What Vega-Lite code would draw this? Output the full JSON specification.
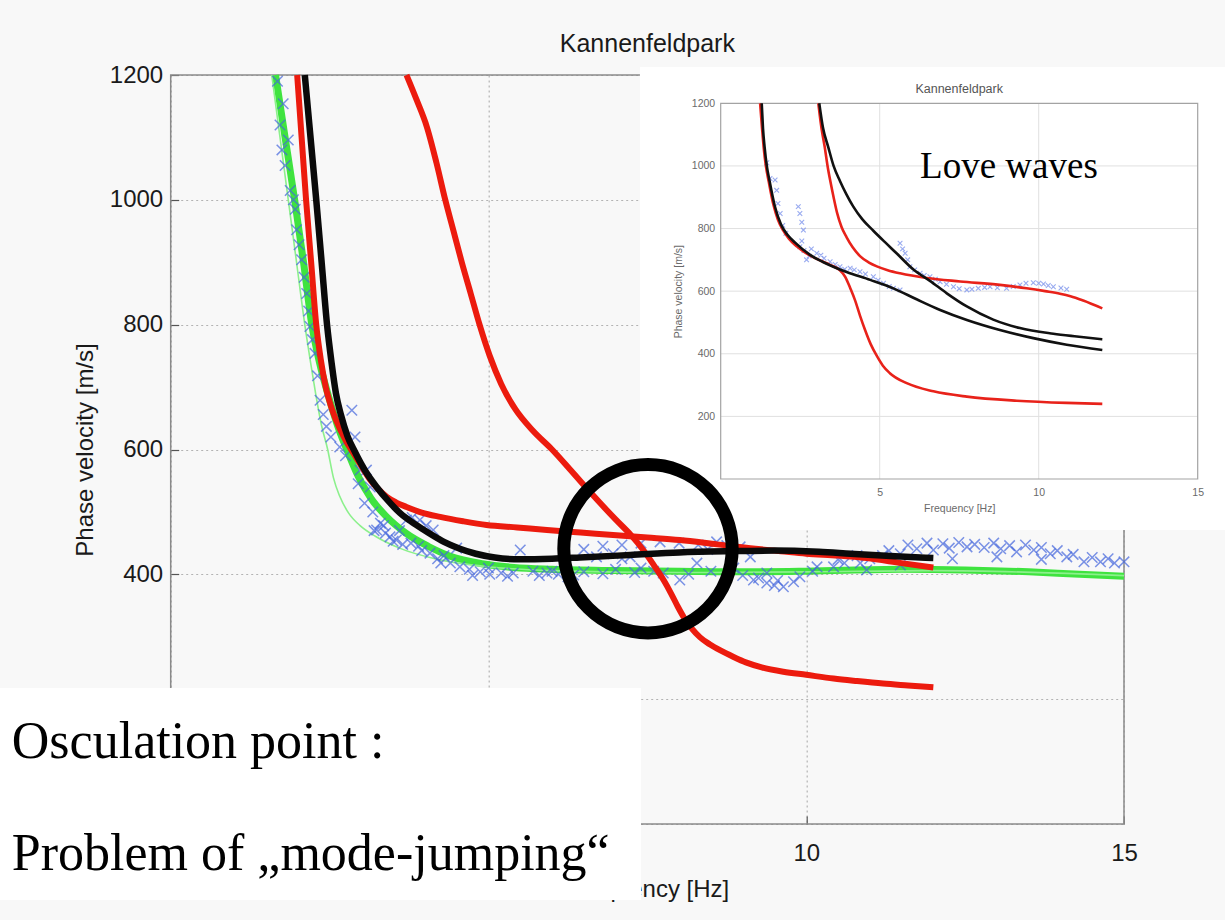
{
  "$schema": "https://vega.github.io/schema/vega-lite/v6.json",
  "width": 953.3,
  "height": 749,
  "autosize": {"type": "none"},
  "padding": {"left": 170.7, "top": 75, "right": 101, "bottom": 96},
  "background": "#f8f8f8",
  "config": {"view": {"stroke": null}, "font": "Liberation Sans"},
  "title": {"text": "Kannenfeldpark", "fontSize": 25, "font": "Liberation Sans", "fontWeight": "normal", "color": "#1a1a1a", "anchor": "middle", "offset": 4},
  "datasets": {
    "main_black": [
      {"f":2.11,"v":1200},{"f":2.20,"v":1100},{"f":2.29,"v":1000},{"f":2.375,"v":900},{"f":2.46,"v":800},{"f":2.53,"v":740},{"f":2.60,"v":690},{"f":2.68,"v":655},{"f":2.78,"v":622},{"f":2.90,"v":596},{"f":3.06,"v":566},{"f":3.24,"v":540},{"f":3.42,"v":518},{"f":3.61,"v":498},{"f":3.85,"v":480},{"f":4.08,"v":465},{"f":4.30,"v":452},{"f":4.55,"v":441},{"f":4.80,"v":433},{"f":5.10,"v":427},{"f":5.50,"v":424},{"f":6.00,"v":425},{"f":6.44,"v":427},{"f":7.23,"v":431},{"f":8.00,"v":435},{"f":8.80,"v":437},{"f":9.50,"v":438},{"f":10.20,"v":436},{"f":10.70,"v":433},{"f":11.40,"v":429},{"f":12.00,"v":426}
    ],
    "main_red1": [
      {"f":1.99,"v":1200},{"f":2.06,"v":1100},{"f":2.13,"v":1000},{"f":2.21,"v":900},{"f":2.29,"v":800},{"f":2.36,"v":745},{"f":2.44,"v":700},{"f":2.52,"v":670},{"f":2.61,"v":645},{"f":2.75,"v":615},{"f":2.90,"v":590},{"f":3.02,"v":570},{"f":3.14,"v":551},{"f":3.27,"v":536},{"f":3.40,"v":524},{"f":3.55,"v":515},{"f":3.71,"v":508},{"f":3.95,"v":499},{"f":4.24,"v":492},{"f":4.60,"v":485},{"f":4.97,"v":479},{"f":5.45,"v":475},{"f":5.92,"v":471},{"f":6.45,"v":467},{"f":6.96,"v":463},{"f":7.50,"v":459},{"f":8.01,"v":455},{"f":8.60,"v":448},{"f":9.20,"v":441},{"f":9.60,"v":437},{"f":10.00,"v":433},{"f":10.50,"v":430},{"f":10.95,"v":426},{"f":11.50,"v":418},{"f":12.00,"v":411}
    ],
    "main_red2": [
      {"f":3.71,"v":1200},{"f":3.87,"v":1160},{"f":4.03,"v":1117},{"f":4.18,"v":1060},{"f":4.32,"v":1000},{"f":4.45,"v":950},{"f":4.58,"v":900},{"f":4.72,"v":850},{"f":4.86,"v":800},{"f":5.02,"v":750},{"f":5.20,"v":705},{"f":5.42,"v":665},{"f":5.70,"v":630},{"f":6.00,"v":600},{"f":6.25,"v":572},{"f":6.50,"v":543},{"f":6.75,"v":515},{"f":7.00,"v":488},{"f":7.25,"v":462},{"f":7.45,"v":437},{"f":7.62,"v":412},{"f":7.76,"v":390},{"f":7.88,"v":368},{"f":7.98,"v":348},{"f":8.08,"v":330},{"f":8.20,"v":313},{"f":8.33,"v":299},{"f":8.48,"v":288},{"f":8.65,"v":278},{"f":8.85,"v":268},{"f":9.05,"v":259},{"f":9.30,"v":251},{"f":9.64,"v":244},{"f":10.00,"v":239},{"f":10.43,"v":233},{"f":10.80,"v":229},{"f":11.21,"v":225},{"f":11.60,"v":222},{"f":12.00,"v":219}
    ],
    "main_green": [
      {"f":1.65,"v":1200},{"f":1.80,"v":1100},{"f":1.95,"v":1000},{"f":2.09,"v":900},{"f":2.22,"v":800},{"f":2.34,"v":740},{"f":2.47,"v":690},{"f":2.62,"v":640},{"f":2.77,"v":600},{"f":2.95,"v":557},{"f":3.15,"v":522},{"f":3.40,"v":492},{"f":3.70,"v":466},{"f":4.05,"v":445},{"f":4.40,"v":429},{"f":4.90,"v":417},{"f":5.40,"v":411},{"f":6.00,"v":408},{"f":7.00,"v":406},{"f":8.00,"v":405},{"f":9.00,"v":404},{"f":10.00,"v":405},{"f":11.50,"v":408},{"f":12.50,"v":407},{"f":13.50,"v":404},{"f":14.30,"v":400},{"f":15.00,"v":397}
    ],
    "main_green_thin": [
      {"f":1.59,"v":1200},{"f":1.72,"v":1100},{"f":1.85,"v":1000},{"f":1.98,"v":900},{"f":2.11,"v":800},{"f":2.20,"v":740},{"f":2.28,"v":690},{"f":2.37,"v":640},{"f":2.47,"v":600},{"f":2.56,"v":555},{"f":2.66,"v":525},{"f":2.80,"v":498},{"f":2.98,"v":478},{"f":3.22,"v":461},{"f":3.60,"v":442},{"f":4.20,"v":424},{"f":5.00,"v":412},{"f":6.00,"v":406},{"f":8.00,"v":403},{"f":10.00,"v":404},{"f":12.00,"v":406},{"f":15.00,"v":398}
    ],
    "main_cross": [
      {"f":1.68,"v":1190},{"f":1.77,"v":1154},{"f":1.72,"v":1120},{"f":1.85,"v":1096},{"f":1.75,"v":1080},{"f":1.80,"v":1055},{"f":1.88,"v":1015},{"f":1.93,"v":1000},{"f":1.96,"v":985},{"f":1.98,"v":952},{"f":2.02,"v":928},{"f":2.06,"v":904},{"f":2.10,"v":876},{"f":2.14,"v":850},{"f":2.17,"v":822},{"f":2.19,"v":797},{"f":2.23,"v":776},{"f":2.27,"v":754},{"f":2.31,"v":718},{"f":2.35,"v":679},{"f":2.40,"v":656},{"f":2.45,"v":637},{"f":2.52,"v":620},{"f":2.66,"v":604},{"f":2.85,"v":663},{"f":2.90,"v":620},{"f":2.75,"v":590},{"f":2.98,"v":567},{"f":3.08,"v":567},{"f":2.95,"v":545},{"f":3.14,"v":540},{"f":3.05,"v":514},{"f":3.18,"v":500},{"f":3.24,"v":471},{"f":3.30,"v":482},{"f":3.38,"v":466},{"f":3.45,"v":460},{"f":3.55,"v":455},{"f":3.65,"v":448},{"f":3.71,"v":487},{"f":3.80,"v":491},{"f":3.92,"v":487},{"f":4.02,"v":478},{"f":4.13,"v":471},{"f":3.78,"v":450},{"f":3.90,"v":445},{"f":4.08,"v":434},{"f":4.30,"v":430},{"f":4.50,"v":442},{"f":4.40,"v":418},{"f":4.55,"v":412},{"f":4.70,"v":408},{"f":4.87,"v":404},{"f":5.02,"v":400},{"f":5.20,"v":402},{"f":5.39,"v":402},{"f":5.50,"v":439},{"f":5.70,"v":405},{"f":5.92,"v":402},{"f":6.10,"v":400},{"f":6.34,"v":399},{"f":6.50,"v":404},{"f":6.70,"v":428},{"f":6.96,"v":433},{"f":7.10,"v":425},{"f":7.23,"v":428},{"f":7.40,"v":410},{"f":7.60,"v":405},{"f":7.75,"v":402},{"f":8.01,"v":391},{"f":8.15,"v":400},{"f":8.28,"v":418},{"f":8.45,"v":440},{"f":8.59,"v":452},{"f":8.75,"v":446},{"f":8.96,"v":444},{"f":9.12,"v":428},{"f":9.17,"v":391},{"f":9.38,"v":386},{"f":9.50,"v":382},{"f":9.64,"v":380},{"f":9.80,"v":388},{"f":9.90,"v":396},{"f":10.10,"v":405},{"f":10.43,"v":412},{"f":10.60,"v":418},{"f":10.85,"v":418},{"f":11.00,"v":425},{"f":11.20,"v":430},{"f":11.48,"v":433},{"f":11.74,"v":441},{"f":12.00,"v":439},{"f":12.25,"v":442},{"f":12.53,"v":444},{"f":12.80,"v":443},{"f":13.06,"v":441},{"f":13.31,"v":436},{"f":13.58,"v":439},{"f":13.84,"v":433},{"f":14.10,"v":428},{"f":14.37,"v":420},{"f":14.63,"v":420},{"f":14.85,"v":418},{"f":15.00,"v":420},{"f":8.86,"v":410},{"f":9.38,"v":402},{"f":10.17,"v":412},{"f":10.95,"v":407},{"f":11.48,"v":415},{"f":6.50,"v":440},{"f":6.80,"v":445},{"f":7.10,"v":447},{"f":7.40,"v":450},{"f":7.70,"v":452},{"f":8.00,"v":450},{"f":8.30,"v":447},{"f":5.00,"v":410},{"f":6.00,"v":405},{"f":7.00,"v":408},{"f":4.20,"v":425},{"f":3.60,"v":470},{"f":3.35,"v":478},{"f":12.30,"v":425},{"f":13.00,"v":428},{"f":13.70,"v":424},
      {"f":11.60,"v":447},{"f":11.90,"v":450},{"f":12.15,"v":449},{"f":12.40,"v":451},{"f":12.65,"v":448},{"f":12.95,"v":450},{"f":13.20,"v":446},{"f":13.45,"v":447},{"f":13.70,"v":443},{"f":13.95,"v":438},{"f":14.20,"v":432},{"f":14.50,"v":427},{"f":14.75,"v":425},{"f":11.30,"v":438},{"f":10.80,"v":430},{"f":10.50,"v":424},{"f":4.75,"v":398},{"f":5.30,"v":397},{"f":5.80,"v":398},{"f":6.25,"v":396},{"f":6.80,"v":401},{"f":7.30,"v":403},{"f":8.50,"v":405},{"f":9.00,"v":398},{"f":9.25,"v":394},{"f":9.55,"v":390},{"f":3.95,"v":438},{"f":4.25,"v":418},{"f":3.50,"v":453},{"f":3.20,"v":470}
    ],
    "ins_red1": [
      {"f":1.24,"v":1200},{"f":1.30,"v":1120},{"f":1.35,"v":1061},{"f":1.42,"v":1000},{"f":1.51,"v":950},{"f":1.66,"v":875},{"f":1.80,"v":828},{"f":1.96,"v":795},{"f":2.15,"v":767},{"f":2.39,"v":743},{"f":2.60,"v":727},{"f":2.86,"v":711},{"f":3.15,"v":697},{"f":3.44,"v":684},{"f":3.72,"v":669},{"f":3.92,"v":645},{"f":4.08,"v":608},{"f":4.22,"v":572},{"f":4.38,"v":522},{"f":4.54,"v":476},{"f":4.72,"v":430},{"f":4.91,"v":393},{"f":5.10,"v":362},{"f":5.32,"v":338},{"f":5.85,"v":306},{"f":6.69,"v":280},{"f":7.74,"v":263},{"f":9.31,"v":250},{"f":10.88,"v":243},{"f":12.00,"v":240}
    ],
    "ins_black1": [
      {"f":1.29,"v":1200},{"f":1.33,"v":1120},{"f":1.38,"v":1061},{"f":1.45,"v":1000},{"f":1.54,"v":950},{"f":1.70,"v":872},{"f":1.90,"v":812},{"f":2.10,"v":780},{"f":2.34,"v":755},{"f":2.81,"v":716},{"f":3.20,"v":694},{"f":3.54,"v":678},{"f":3.96,"v":661},{"f":4.70,"v":636},{"f":5.43,"v":609},{"f":6.16,"v":574},{"f":6.90,"v":540},{"f":7.74,"v":508},{"f":8.78,"v":476},{"f":9.83,"v":450},{"f":10.88,"v":429},{"f":12.00,"v":412}
    ],
    "ins_red2": [
      {"f":3.07,"v":1200},{"f":3.17,"v":1120},{"f":3.27,"v":1061},{"f":3.36,"v":1000},{"f":3.45,"v":950},{"f":3.55,"v":900},{"f":3.66,"v":850},{"f":3.80,"v":805},{"f":3.96,"v":772},{"f":4.15,"v":740},{"f":4.38,"v":712},{"f":4.65,"v":692},{"f":4.91,"v":679},{"f":5.25,"v":667},{"f":5.64,"v":657},{"f":6.48,"v":642},{"f":7.53,"v":631},{"f":8.78,"v":620},{"f":9.62,"v":609},{"f":10.20,"v":600},{"f":10.67,"v":592},{"f":11.00,"v":584},{"f":11.40,"v":570},{"f":12.00,"v":545}
    ],
    "ins_black2": [
      {"f":3.10,"v":1200},{"f":3.22,"v":1120},{"f":3.38,"v":1061},{"f":3.55,"v":1000},{"f":3.75,"v":952},{"f":3.95,"v":910},{"f":4.17,"v":870},{"f":4.45,"v":830},{"f":4.80,"v":793},{"f":5.15,"v":758},{"f":5.53,"v":721},{"f":6.06,"v":669},{"f":6.58,"v":633},{"f":7.11,"v":593},{"f":7.74,"v":551},{"f":8.57,"v":509},{"f":9.41,"v":482},{"f":10.46,"v":464},{"f":11.20,"v":455},{"f":12.00,"v":446}
    ],
    "ins_cross": [
      {"f":1.45,"v":1010},{"f":1.55,"v":960},{"f":1.71,"v":955},{"f":1.76,"v":922},{"f":1.80,"v":880},{"f":1.87,"v":848},{"f":1.95,"v":810},{"f":2.05,"v":785},{"f":2.44,"v":870},{"f":2.49,"v":848},{"f":2.55,"v":820},{"f":2.60,"v":795},{"f":2.49,"v":742},{"f":2.55,"v":760},{"f":2.62,"v":730},{"f":2.70,"v":700},{"f":2.78,"v":712},{"f":2.85,"v":735},{"f":3.02,"v":721},{"f":3.15,"v":715},{"f":3.25,"v":705},{"f":3.44,"v":694},{"f":3.60,"v":685},{"f":3.75,"v":678},{"f":3.90,"v":670},{"f":4.07,"v":673},{"f":4.20,"v":668},{"f":4.38,"v":662},{"f":4.55,"v":655},{"f":4.80,"v":646},{"f":4.95,"v":635},{"f":5.12,"v":625},{"f":5.30,"v":615},{"f":5.43,"v":609},{"f":5.64,"v":604},{"f":5.64,"v":753},{"f":5.72,"v":735},{"f":5.80,"v":721},{"f":5.88,"v":700},{"f":5.95,"v":678},{"f":6.10,"v":668},{"f":6.27,"v":657},{"f":6.40,"v":650},{"f":6.58,"v":646},{"f":6.75,"v":638},{"f":6.90,"v":630},{"f":7.10,"v":622},{"f":7.32,"v":614},{"f":7.50,"v":608},{"f":7.74,"v":604},{"f":7.90,"v":606},{"f":8.10,"v":609},{"f":8.30,"v":612},{"f":8.47,"v":614},{"f":8.70,"v":611},{"f":8.99,"v":609},{"f":9.20,"v":615},{"f":9.41,"v":620},{"f":9.60,"v":625},{"f":9.83,"v":627},{"f":10.00,"v":625},{"f":10.15,"v":623},{"f":10.30,"v":618},{"f":10.46,"v":614},{"f":10.70,"v":610},{"f":10.88,"v":606}
    ],
    "ins_grid_x": [{"g":5},{"g":10}],
    "ins_grid_y": [{"g":200},{"g":400},{"g":600},{"g":800},{"g":1000}]
  },
  "layer": [
    {"data": {"values": [{}]}, "mark": {"type": "rect", "filled": false, "color": "#8a8a8a", "strokeWidth": 1.5},
      "encoding": {"x": {"datum": 0, "type": "quantitative", "scale": {"domain": [0, 15], "nice": false, "zero": false}, "axis": null}, "x2": {"datum": 15}, "y": {"datum": 0, "type": "quantitative", "scale": {"domain": [0, 1200], "nice": false, "zero": false}, "axis": null}, "y2": {"datum": 1200}}},
    {"data": {"name": "main_green"}, "mark": {"type": "line", "color": "#3fe33f", "strokeWidth": 7, "interpolate": "monotone"},
      "encoding": {
        "x": {"field": "f", "type": "quantitative", "scale": {"domain": [0, 15], "nice": false, "zero": false},
          "axis": {"orient": "bottom", "values": [0, 5, 10, 15], "format": "d", "labelExpr": "datum.value >= 10 ? datum.label : ''", "grid": true, "gridDash": [2, 3], "gridColor": "#b3b3b3", "gridWidth": 1.2, "domain": false, "ticks": true, "tickSize": -8, "tickColor": "#555555", "tickWidth": 1.2, "labelPadding": 25, "labelFont": "Liberation Sans", "labelFontSize": 24, "labelColor": "#1a1a1a", "labelFlush": false, "title": "Frequency [Hz]", "titleFont": "Liberation Sans", "titleFontSize": 24, "titleFontWeight": "normal", "titleColor": "#1a1a1a", "titlePadding": 12, "zindex": 0}},
        "y": {"field": "v", "type": "quantitative", "scale": {"domain": [0, 1200], "nice": false, "zero": false},
          "axis": {"orient": "left", "values": [0, 200, 400, 600, 800, 1000, 1200], "format": "d", "labelExpr": "datum.value >= 400 ? datum.label : ''", "grid": true, "gridDash": [2, 3], "gridColor": "#b3b3b3", "gridWidth": 1.2, "domain": false, "ticks": true, "tickSize": -8, "tickColor": "#555555", "tickWidth": 1.2, "labelPadding": 16, "labelFont": "Liberation Sans", "labelFontSize": 24, "labelColor": "#1a1a1a", "labelFlush": false, "title": "Phase velocity [m/s]", "titleFont": "Liberation Sans", "titleFontSize": 24, "titleFontWeight": "normal", "titleColor": "#1a1a1a", "titlePadding": 12, "zindex": 0}}
      }},
    {"data": {"name": "main_green_thin"}, "mark": {"type": "line", "color": "#8cf08c", "strokeWidth": 1.6, "interpolate": "monotone"},
      "encoding": {"x": {"field": "f", "type": "quantitative", "scale": {"domain": [0, 15], "nice": false, "zero": false}, "axis": null}, "y": {"field": "v", "type": "quantitative", "scale": {"domain": [0, 1200], "nice": false, "zero": false}, "axis": null}}},
    {"data": {"name": "main_cross"}, "mark": {"type": "point", "shape": "M-1,-1L1,1M-1,1L1,-1", "filled": false, "stroke": "#4466dd", "strokeWidth": 1.5, "size": 110, "opacity": 0.7},
      "encoding": {"x": {"field": "f", "type": "quantitative", "scale": {"domain": [0, 15], "nice": false, "zero": false}, "axis": null}, "y": {"field": "v", "type": "quantitative", "scale": {"domain": [0, 1200], "nice": false, "zero": false}, "axis": null}}},
    {"data": {"name": "main_red2"}, "mark": {"type": "line", "color": "#ec1b0e", "strokeWidth": 6, "interpolate": "monotone"},
      "encoding": {"x": {"field": "f", "type": "quantitative", "scale": {"domain": [0, 15], "nice": false, "zero": false}, "axis": null}, "y": {"field": "v", "type": "quantitative", "scale": {"domain": [0, 1200], "nice": false, "zero": false}, "axis": null}}},
    {"data": {"name": "main_red1"}, "mark": {"type": "line", "color": "#ec1b0e", "strokeWidth": 6, "interpolate": "monotone"},
      "encoding": {"x": {"field": "f", "type": "quantitative", "scale": {"domain": [0, 15], "nice": false, "zero": false}, "axis": null}, "y": {"field": "v", "type": "quantitative", "scale": {"domain": [0, 1200], "nice": false, "zero": false}, "axis": null}}},
    {"data": {"name": "main_black"}, "mark": {"type": "line", "color": "#0a0a0a", "strokeWidth": 6.5, "interpolate": "monotone"},
      "encoding": {"x": {"field": "f", "type": "quantitative", "scale": {"domain": [0, 15], "nice": false, "zero": false}, "axis": null}, "y": {"field": "v", "type": "quantitative", "scale": {"domain": [0, 1200], "nice": false, "zero": false}, "axis": null}}},

    {"data": {"values": [{}]}, "mark": {"type": "rect", "color": "#ffffff"},
      "encoding": {"x": {"datum": -2.54, "type": "quantitative", "scale": {"domain": [0, 15], "range": [550, 1027], "nice": false, "zero": false}, "axis": null}, "x2": {"datum": 16.2}, "y": {"datum": -163, "type": "quantitative", "scale": {"domain": [0, 1200], "range": [404, 28.3], "nice": false, "zero": false}, "axis": null}, "y2": {"datum": 1316}}},
    {"data": {"name": "ins_grid_x"}, "mark": {"type": "rule", "color": "#e0e0e0", "strokeWidth": 1},
      "encoding": {"x": {"field": "g", "type": "quantitative", "scale": {"domain": [0, 15], "range": [550, 1027], "nice": false, "zero": false}, "axis": null}, "y": {"datum": 0, "type": "quantitative", "scale": {"domain": [0, 1200], "range": [404, 28.3], "nice": false, "zero": false}, "axis": null}, "y2": {"datum": 1200}}},
    {"data": {"name": "ins_grid_y"}, "mark": {"type": "rule", "color": "#e0e0e0", "strokeWidth": 1},
      "encoding": {"y": {"field": "g", "type": "quantitative", "scale": {"domain": [0, 1200], "range": [404, 28.3], "nice": false, "zero": false}, "axis": null}, "x": {"datum": 0, "type": "quantitative", "scale": {"domain": [0, 15], "range": [550, 1027], "nice": false, "zero": false}, "axis": null}, "x2": {"datum": 15}}},
    {"data": {"values": [{}]}, "mark": {"type": "rect", "filled": false, "color": "#a3a3a3", "strokeWidth": 1.2},
      "encoding": {"x": {"datum": 0, "type": "quantitative", "scale": {"domain": [0, 15], "range": [550, 1027], "nice": false, "zero": false}, "axis": null}, "x2": {"datum": 15}, "y": {"datum": 0, "type": "quantitative", "scale": {"domain": [0, 1200], "range": [404, 28.3], "nice": false, "zero": false}, "axis": null}, "y2": {"datum": 1200}}},
    {"data": {"name": "ins_cross"}, "mark": {"type": "point", "shape": "M-1,-1L1,1M-1,1L1,-1", "filled": false, "stroke": "#8ea2ef", "strokeWidth": 1.1, "size": 22, "opacity": 0.9},
      "encoding": {
        "x": {"field": "f", "type": "quantitative", "scale": {"domain": [0, 15], "range": [550, 1027], "nice": false, "zero": false},
          "axis": {"orient": "bottom", "offset": -345, "values": [5, 10, 15], "format": "d", "grid": false, "domain": false, "ticks": false, "labelPadding": 8, "labelFont": "Liberation Sans", "labelFontSize": 10.5, "labelColor": "#6a6a6a", "labelFlush": false, "title": "Frequency [Hz]", "titleFont": "Liberation Sans", "titleFontSize": 10.5, "titleFontWeight": "normal", "titleColor": "#6a6a6a", "titlePadding": 6, "zindex": 1}},
        "y": {"field": "v", "type": "quantitative", "scale": {"domain": [0, 1200], "range": [404, 28.3], "nice": false, "zero": false},
          "axis": {"orient": "left", "offset": -550, "values": [200, 400, 600, 800, 1000, 1200], "format": "d", "grid": false, "domain": false, "ticks": false, "labelPadding": 6, "labelFont": "Liberation Sans", "labelFontSize": 10.5, "labelColor": "#6a6a6a", "labelFlush": false, "title": "Phase velocity [m/s]", "titleFont": "Liberation Sans", "titleFontSize": 10.5, "titleFontWeight": "normal", "titleColor": "#6a6a6a", "titlePadding": 8, "zindex": 1}}
      }},
    {"data": {"name": "ins_red1"}, "mark": {"type": "line", "color": "#e8221a", "strokeWidth": 2.6, "interpolate": "monotone"},
      "encoding": {"x": {"field": "f", "type": "quantitative", "scale": {"domain": [0, 15], "range": [550, 1027], "nice": false, "zero": false}, "axis": null}, "y": {"field": "v", "type": "quantitative", "scale": {"domain": [0, 1200], "range": [404, 28.3], "nice": false, "zero": false}, "axis": null}}},
    {"data": {"name": "ins_black1"}, "mark": {"type": "line", "color": "#111111", "strokeWidth": 2.6, "interpolate": "monotone"},
      "encoding": {"x": {"field": "f", "type": "quantitative", "scale": {"domain": [0, 15], "range": [550, 1027], "nice": false, "zero": false}, "axis": null}, "y": {"field": "v", "type": "quantitative", "scale": {"domain": [0, 1200], "range": [404, 28.3], "nice": false, "zero": false}, "axis": null}}},
    {"data": {"name": "ins_red2"}, "mark": {"type": "line", "color": "#e8221a", "strokeWidth": 2.6, "interpolate": "monotone"},
      "encoding": {"x": {"field": "f", "type": "quantitative", "scale": {"domain": [0, 15], "range": [550, 1027], "nice": false, "zero": false}, "axis": null}, "y": {"field": "v", "type": "quantitative", "scale": {"domain": [0, 1200], "range": [404, 28.3], "nice": false, "zero": false}, "axis": null}}},
    {"data": {"name": "ins_black2"}, "mark": {"type": "line", "color": "#111111", "strokeWidth": 2.6, "interpolate": "monotone"},
      "encoding": {"x": {"field": "f", "type": "quantitative", "scale": {"domain": [0, 15], "range": [550, 1027], "nice": false, "zero": false}, "axis": null}, "y": {"field": "v", "type": "quantitative", "scale": {"domain": [0, 1200], "range": [404, 28.3], "nice": false, "zero": false}, "axis": null}}},
    {"data": {"values": [{}]}, "mark": {"type": "text", "text": "Kannenfeldpark", "font": "Liberation Sans", "fontSize": 12.5, "color": "#555555", "align": "center", "baseline": "alphabetic", "dy": -10},
      "encoding": {"x": {"datum": 7.5, "type": "quantitative", "scale": {"domain": [0, 15], "range": [550, 1027], "nice": false, "zero": false}, "axis": null}, "y": {"datum": 1200, "type": "quantitative", "scale": {"domain": [0, 1200], "range": [404, 28.3], "nice": false, "zero": false}, "axis": null}}},
    {"data": {"values": [{}]}, "mark": {"type": "text", "text": "Love waves", "font": "Liberation Serif", "fontSize": 37, "color": "#000000", "align": "left", "baseline": "alphabetic"},
      "encoding": {"x": {"datum": 6.27, "type": "quantitative", "scale": {"domain": [0, 15], "range": [550, 1027], "nice": false, "zero": false}, "axis": null}, "y": {"datum": 960, "type": "quantitative", "scale": {"domain": [0, 1200], "range": [404, 28.3], "nice": false, "zero": false}, "axis": null}}},

    {"data": {"values": [{}]}, "mark": {"type": "rect", "color": "#ffffff"},
      "encoding": {"x": {"datum": -2.686, "type": "quantitative", "scale": {"domain": [0, 15], "nice": false, "zero": false}, "axis": null}, "x2": {"datum": 7.40}, "y": {"datum": -121.8, "type": "quantitative", "scale": {"domain": [0, 1200], "nice": false, "zero": false}, "axis": null}, "y2": {"datum": 217.9}}},
    {"data": {"values": [{}]}, "mark": {"type": "text", "text": "Osculation point :", "font": "Liberation Serif", "fontSize": 52, "color": "#000000", "align": "left", "baseline": "alphabetic"},
      "encoding": {"x": {"datum": -2.50, "type": "quantitative", "scale": {"domain": [0, 15], "nice": false, "zero": false}, "axis": null}, "y": {"datum": 105.7, "type": "quantitative", "scale": {"domain": [0, 1200], "nice": false, "zero": false}, "axis": null}}},
    {"data": {"values": [{}]}, "mark": {"type": "text", "text": "Problem of „mode-jumping“", "font": "Liberation Serif", "fontSize": 52, "color": "#000000", "align": "left", "baseline": "alphabetic"},
      "encoding": {"x": {"datum": -2.50, "type": "quantitative", "scale": {"domain": [0, 15], "nice": false, "zero": false}, "axis": null}, "y": {"datum": -73.7, "type": "quantitative", "scale": {"domain": [0, 1200], "nice": false, "zero": false}, "axis": null}}},
    {"data": {"values": [{}]}, "mark": {"type": "point", "shape": "circle", "filled": false, "stroke": "#000000", "strokeWidth": 13, "size": 28353, "opacity": 1},
      "encoding": {"x": {"datum": 7.51, "type": "quantitative", "scale": {"domain": [0, 15], "nice": false, "zero": false}, "axis": null}, "y": {"datum": 441, "type": "quantitative", "scale": {"domain": [0, 1200], "nice": false, "zero": false}, "axis": null}}}
  ],
  "resolve": {"scale": {"x": "independent", "y": "independent"}, "axis": {"x": "independent", "y": "independent"}}
}
